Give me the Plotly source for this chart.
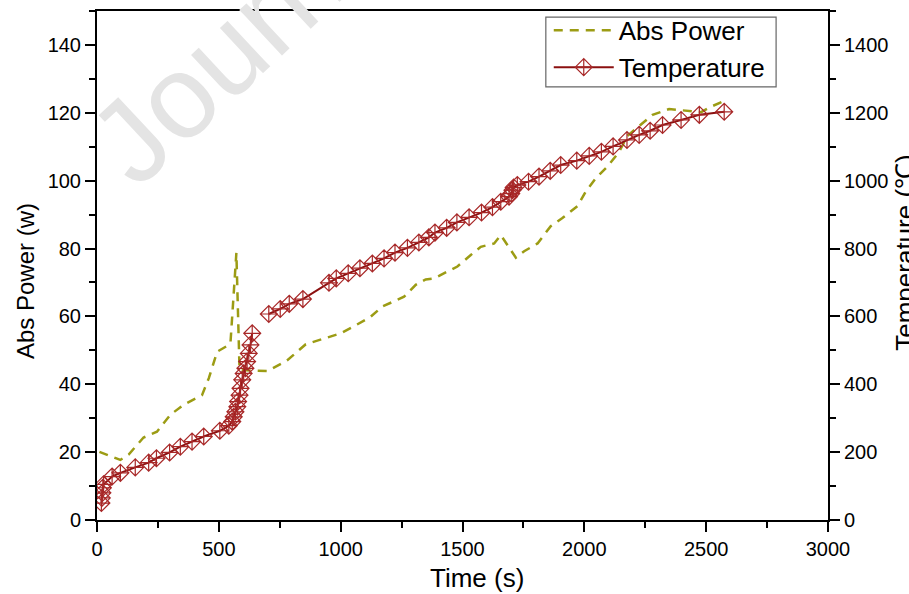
import plotly.graph_objects as go

# ---- data ----
power_time = [10, 96, 130, 191, 246, 301, 356, 431, 459, 493, 541, 548, 572, 585, 700, 780, 857,
              960, 1000, 1060, 1123, 1171, 1260, 1308, 1349, 1383, 1479, 1534, 1575, 1630, 1657,
              1719, 1753, 1808, 1862, 1910, 1972, 2006, 2047, 2095, 2143, 2177, 2232, 2280, 2348,
              2424, 2479, 2520, 2568]
abs_power = [20.1, 17.7, 19.3, 24.3, 26, 31, 34, 36.8, 41.8, 49.6, 51.6, 52.5, 78.7, 44.2, 43.9,
             47, 51.8, 54, 55, 57.3, 59.9, 62.9, 65.8, 69.3, 70.9, 71.2, 74.7, 78.1, 80.5, 81.5, 84,
             77.3, 79.2, 81.5, 86.6, 89, 92.5, 96.8, 100.7, 104.2, 108.5, 113.2, 116.4, 119.4,
             121.1, 120.6, 120.2, 121.8, 123.3]

temp_time = [18, 20, 22, 24, 27, 62, 96, 157, 212, 244, 298, 342, 390, 438, 504, 541, 555, 561,
             568, 576, 579, 585, 589, 596, 602, 609, 616, 623, 630, 637, 670, 705, 752, 789, 845,
             952, 982, 1031, 1079, 1130, 1178, 1223, 1274, 1321, 1362, 1387, 1435, 1477, 1527,
             1578, 1623, 1657, 1691, 1700, 1705, 1710, 1725, 1771, 1814, 1860, 1903, 1969, 2020,
             2070, 2118, 2175, 2225, 2270, 2321, 2397, 2472, 2574]
temperature = [50, 65, 80, 95, 105, 128, 139, 155, 169, 182, 199, 216, 231, 246, 263, 278, 290,
               304, 319, 334, 349, 368, 388, 413, 432, 447, 467, 491, 516, 550, None, 607, 622,
               637, 651, 699, 712, 727, 742, 756, 771, 788, 802, 818, 833, 847, 861, 877, 892,
               906, 922, 938, 953, 962, 972, 980, 987, 997, 1012, 1029, 1046, 1059, 1073, 1085,
               1101, 1120, 1135, 1147, 1164, 1179, 1194, 1203]

x_ticks = [0, 500, 1000, 1500, 2000, 2500, 3000]
power_ticks = [0, 20, 40, 60, 80, 100, 120, 140]
temp_ticks = [0, 200, 400, 600, 800, 1000, 1200, 1400]

FONT = "Liberation Sans, Arial, sans-serif"
OLIVE = "#9c9c14"
WINE = "#8b1010"

fig = go.Figure()
fig.add_trace(go.Scatter(
    x=power_time, y=abs_power, name="Abs Power", mode="lines",
    line=dict(color=OLIVE, width=2.5, dash="9px,7px"), yaxis="y"))
fig.add_trace(go.Scatter(
    x=temp_time, y=temperature, name="Temperature", mode="lines+markers",
    line=dict(color=WINE, width=2), connectgaps=False,
    marker=dict(symbol="diamond-cross-open", size=13, color="#a82828", line=dict(width=1.2)),
    yaxis="y2"))

tickfont = dict(family=FONT, size=20, color="black")

fig.update_layout(
    width=909, height=594,
    margin=dict(l=97, r=81, t=11, b=74, autoexpand=False),
    paper_bgcolor="white", plot_bgcolor="white",
    showlegend=True,
    legend=dict(x=0.618, y=1.008, xanchor="left", yanchor="top",
                borderwidth=0, bgcolor="rgba(255,255,255,0)",
                itemwidth=60,
                font=dict(family=FONT, size=26, color="black"), tracegroupgap=0),
    xaxis=dict(range=[0, 3000], tickvals=x_ticks, ticks="outside", ticklen=10, tickwidth=1.5,
               tickcolor="black", showline=True, linecolor="black", linewidth=2, mirror=True,
               showgrid=False, zeroline=False, tickfont=tickfont, automargin=False,
               minor=dict(dtick=250, ticks="outside", ticklen=6, tickwidth=1.5, tickcolor="black")),
    yaxis=dict(range=[0, 150], tickvals=power_ticks, ticks="outside", ticklen=10, tickwidth=1.5,
               tickcolor="black", showline=True, linecolor="black", linewidth=2,
               showgrid=False, zeroline=False, tickfont=tickfont, automargin=False,
               minor=dict(dtick=10, ticks="outside", ticklen=6, tickwidth=1.5, tickcolor="black")),
    yaxis2=dict(range=[0, 1500], tickvals=temp_ticks, ticks="outside", ticklen=10, tickwidth=1.5,
                tickcolor="black", showline=True, linecolor="black", linewidth=2,
                overlaying="y", side="right", showgrid=False, zeroline=False, tickfont=tickfont,
                automargin=False,
                minor=dict(dtick=100, ticks="outside", ticklen=6, tickwidth=1.5, tickcolor="black")),
)

# legend frame
fig.add_shape(type="rect", xref="paper", yref="paper", x0=0.614, x1=0.929, y0=0.851, y1=0.988,
              line=dict(color="#666666", width=1.2), fillcolor="rgba(0,0,0,0)")

# axis titles
fig.add_annotation(text="Time (s)", xref="paper", yref="paper", x=0.520, y=-0.114,
                   xanchor="center", yanchor="middle", showarrow=False,
                   font=dict(family=FONT, size=26, color="black"))
fig.add_annotation(text="Abs Power (w)", xref="paper", yref="paper", x=-0.0985, y=0.4695,
                   xanchor="center", yanchor="middle", showarrow=False, textangle=-90,
                   font=dict(family=FONT, size=24, color="black"))
fig.add_annotation(text="Temperature (℃)", xref="paper", yref="paper", x=1.105, y=0.5265,
                   xanchor="center", yanchor="middle", showarrow=False, textangle=-90,
                   font=dict(family=FONT, size=26, color="black"))

# watermark
fig.add_annotation(text="Journ", xref="paper", yref="paper", x=0.164, y=0.904,
                   xanchor="center", yanchor="middle",
                   showarrow=False, textangle=-43,
                   font=dict(family=FONT, size=118, color="#e4e4e4"))

fig.write_html("out.html")
